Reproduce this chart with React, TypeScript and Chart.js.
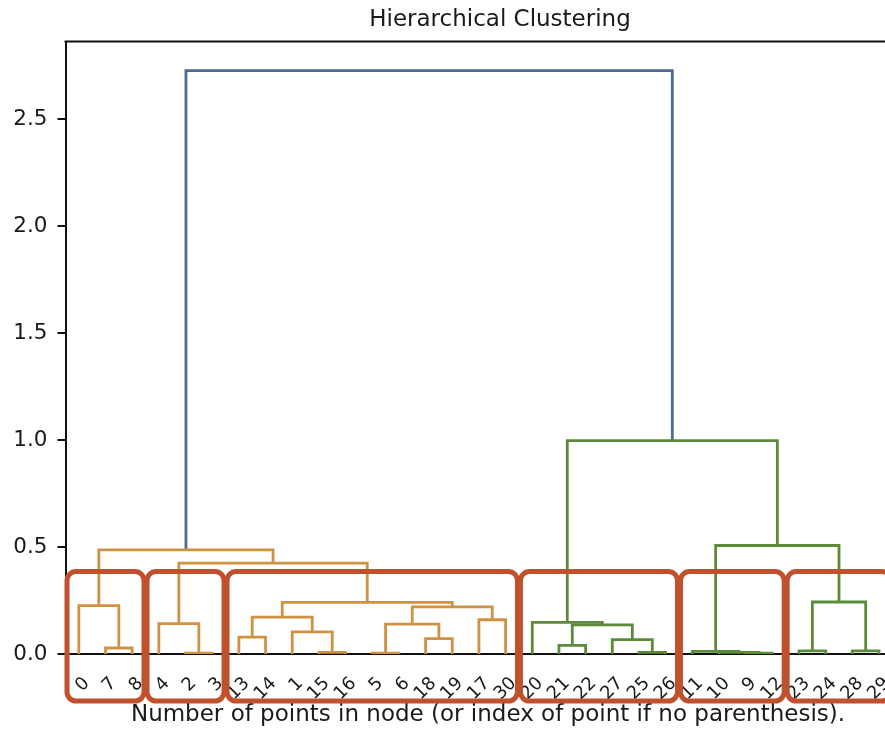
import React, { useEffect, useRef } from 'react';
import { Chart, registerables } from 'chart.js';

Chart.register(...registerables);

// Leaf labels in dendrogram order (left to right)
const leafLabels = ['0', '7', '8', '4', '2', '3', '13', '14', '1', '15', '16', '5', '6', '18', '19', '17', '30', '20', '21', '22', '27', '25', '26', '11', '10', '9', '12', '23', '24', '28', '29'];

// Merges: children < 31 are leaf positions, otherwise 31 + index of earlier merge
const mergeA = [1, 0, 4, 3, 6, 9, 8, 35, 11, 13, 39, 15, 41, 38, 34, 32, 18, 21, 20, 47, 17, 25, 24, 23, 27, 29, 55, 54, 51, 46];
const mergeB = [2, 31, 5, 33, 7, 10, 36, 37, 12, 14, 40, 16, 42, 43, 44, 45, 19, 22, 48, 49, 50, 26, 52, 53, 28, 30, 56, 57, 58, 59];
const mergeHeight = [0.028, 0.226, 0.004, 0.142, 0.079, 0.008, 0.103, 0.172, 0.004, 0.072, 0.14, 0.16, 0.22, 0.241, 0.425, 0.487, 0.04, 0.008, 0.067, 0.136, 0.148, 0.004, 0.008, 0.012, 0.015, 0.015, 0.243, 0.507, 0.997, 2.726];
const mergeGroup = ['o', 'o', 'o', 'o', 'o', 'o', 'o', 'o', 'o', 'o', 'o', 'o', 'o', 'o', 'o', 'o', 'g', 'g', 'g', 'g', 'g', 'g', 'g', 'g', 'g', 'g', 'g', 'g', 'g', 'b'];

const yTicks = [0, 0.5, 1.0, 1.5, 2.0, 2.5];
const yMax = 2.862;
const xMax = 316.8;

// Highlighted clusters (leaf position ranges)
const boxStart = [0, 3, 6, 17, 23, 27];
const boxEnd = [2, 5, 16, 22, 26, 30];
const boxTop = 0.385;

const groupColor: Record<string, string> = { o: '#cf9242', g: '#5b8a38', b: '#4c6a94' };
const boxColor = '#c1502c';

const titleText = 'Hierarchical Clustering';
const xTitle = 'Number of points in node (or index of point if no parenthesis).';

function buildLinks() {
  const nodeX: number[] = leafLabels.map((_, i) => 10 * i + 5);
  const nodeH: number[] = leafLabels.map(() => 0);
  return mergeA.map((a, k) => {
    const b = mergeB[k];
    const h = mergeHeight[k];
    const pts = [
      { x: nodeX[a], y: nodeH[a] },
      { x: nodeX[a], y: h },
      { x: nodeX[b], y: h },
      { x: nodeX[b], y: nodeH[b] },
    ];
    nodeX.push((nodeX[a] + nodeX[b]) / 2);
    nodeH.push(h);
    return pts;
  });
}

const framePlugin = {
  id: 'frame',
  afterDraw(chart: any) {
    const { ctx, chartArea } = chart;
    ctx.save();
    ctx.strokeStyle = '#111';
    ctx.lineWidth = 2;
    ctx.beginPath();
    ctx.moveTo(chartArea.left - 1, chartArea.top);
    ctx.lineTo(chartArea.right, chartArea.top);
    ctx.lineTo(chartArea.right, chartArea.bottom);
    ctx.stroke();
    ctx.restore();
  },
};

const boxesPlugin = {
  id: 'clusterBoxes',
  afterDraw(chart: any) {
    const { ctx, chartArea } = chart;
    const xs = chart.scales.x;
    const ys = chart.scales.y;
    ctx.save();
    ctx.strokeStyle = boxColor;
    ctx.lineWidth = 5;
    ctx.lineJoin = 'round';
    boxStart.forEach((s, i) => {
      const left = xs.getPixelForValue(10 * s) + 1.5;
      const right = xs.getPixelForValue(10 * (boxEnd[i] + 1)) - 1.5;
      const top = ys.getPixelForValue(boxTop);
      const bottom = chartArea.bottom + 47;
      const r = 9;
      ctx.beginPath();
      ctx.moveTo(left + r, top);
      ctx.lineTo(right - r, top);
      ctx.arcTo(right, top, right, top + r, r);
      ctx.lineTo(right, bottom - r);
      ctx.arcTo(right, bottom, right - r, bottom, r);
      ctx.lineTo(left + r, bottom);
      ctx.arcTo(left, bottom, left, bottom - r, r);
      ctx.lineTo(left, top + r);
      ctx.arcTo(left, top, left + r, top, r);
      ctx.closePath();
      ctx.stroke();
    });
    ctx.restore();
  },
};

export default function App() {
  const ref = useRef<HTMLCanvasElement | null>(null);

  useEffect(() => {
    if (!ref.current) return;
    Chart.defaults.font.family = "'DejaVu Sans', sans-serif";
    Chart.defaults.color = '#1a1a1a';
    const links = buildLinks();
    const chart = new Chart(ref.current, {
      type: 'line',
      data: {
        datasets: links.map((pts, k) => ({
          data: pts,
          borderColor: groupColor[mergeGroup[k]],
          backgroundColor: groupColor[mergeGroup[k]],
          borderWidth: 2.8,
          pointRadius: 0,
          tension: 0,
          fill: false,
        })),
      },
      options: {
        responsive: false,
        animation: false,
        layout: { padding: 0 },
        plugins: {
          legend: { display: false },
          tooltip: { enabled: false },
          title: {
            display: true,
            text: titleText,
            color: '#1a1a1a',
            font: { size: 23, weight: 'normal' },
            padding: { top: 6, bottom: 8 },
          },
        },
        scales: {
          x: {
            type: 'linear',
            min: 0,
            max: xMax,
            afterBuildTicks: (s: any) => {
              s.ticks = leafLabels.map((_, i) => ({ value: 10 * i + 5 }));
            },
            afterFit: (s: any) => {
              s.height = 82;
            },
            grid: { display: false, drawTicks: false },
            border: { display: true, color: '#111', width: 2 },
            ticks: {
              autoSkip: false,
              minRotation: 45,
              maxRotation: 45,
              padding: 19,
              labelOffset: 8,
              color: '#1a1a1a',
              font: { size: 18 },
              callback: (_v: any, i: number) => leafLabels[i],
            },
            title: {
              display: true,
              text: xTitle,
              color: '#1a1a1a',
              font: { size: 23 },
              padding: { top: 0, bottom: 7 },
            },
          },
          y: {
            type: 'linear',
            min: 0,
            max: yMax,
            afterBuildTicks: (s: any) => {
              s.ticks = yTicks.map((v) => ({ value: v }));
            },
            afterFit: (s: any) => {
              s.width = 65.5;
            },
            grid: { display: true, drawOnChartArea: false, drawTicks: true, tickLength: 8, tickColor: '#111', lineWidth: 2 },
            border: { display: true, color: '#111', width: 2 },
            ticks: {
              padding: 10,
              color: '#1a1a1a',
              font: { size: 21.5 },
              callback: (v: any) => Number(v).toFixed(1),
            },
          },
          yRight: {
            type: 'linear',
            position: 'right',
            display: true,
            grid: { display: false },
            border: { display: false },
            ticks: { display: false },
            afterFit: (s: any) => {
              s.width = 89.5;
            },
          },
        },
      } as any,
      plugins: [framePlugin, boxesPlugin],
    });
    return () => chart.destroy();
  }, []);

  return (
    <div style={{ position: 'fixed', left: 0, top: 0, width: 885, height: 736, overflow: 'hidden', background: '#fff' }}>
      <canvas ref={ref} width={1000} height={736} style={{ display: 'block' }} />
    </div>
  );
}
